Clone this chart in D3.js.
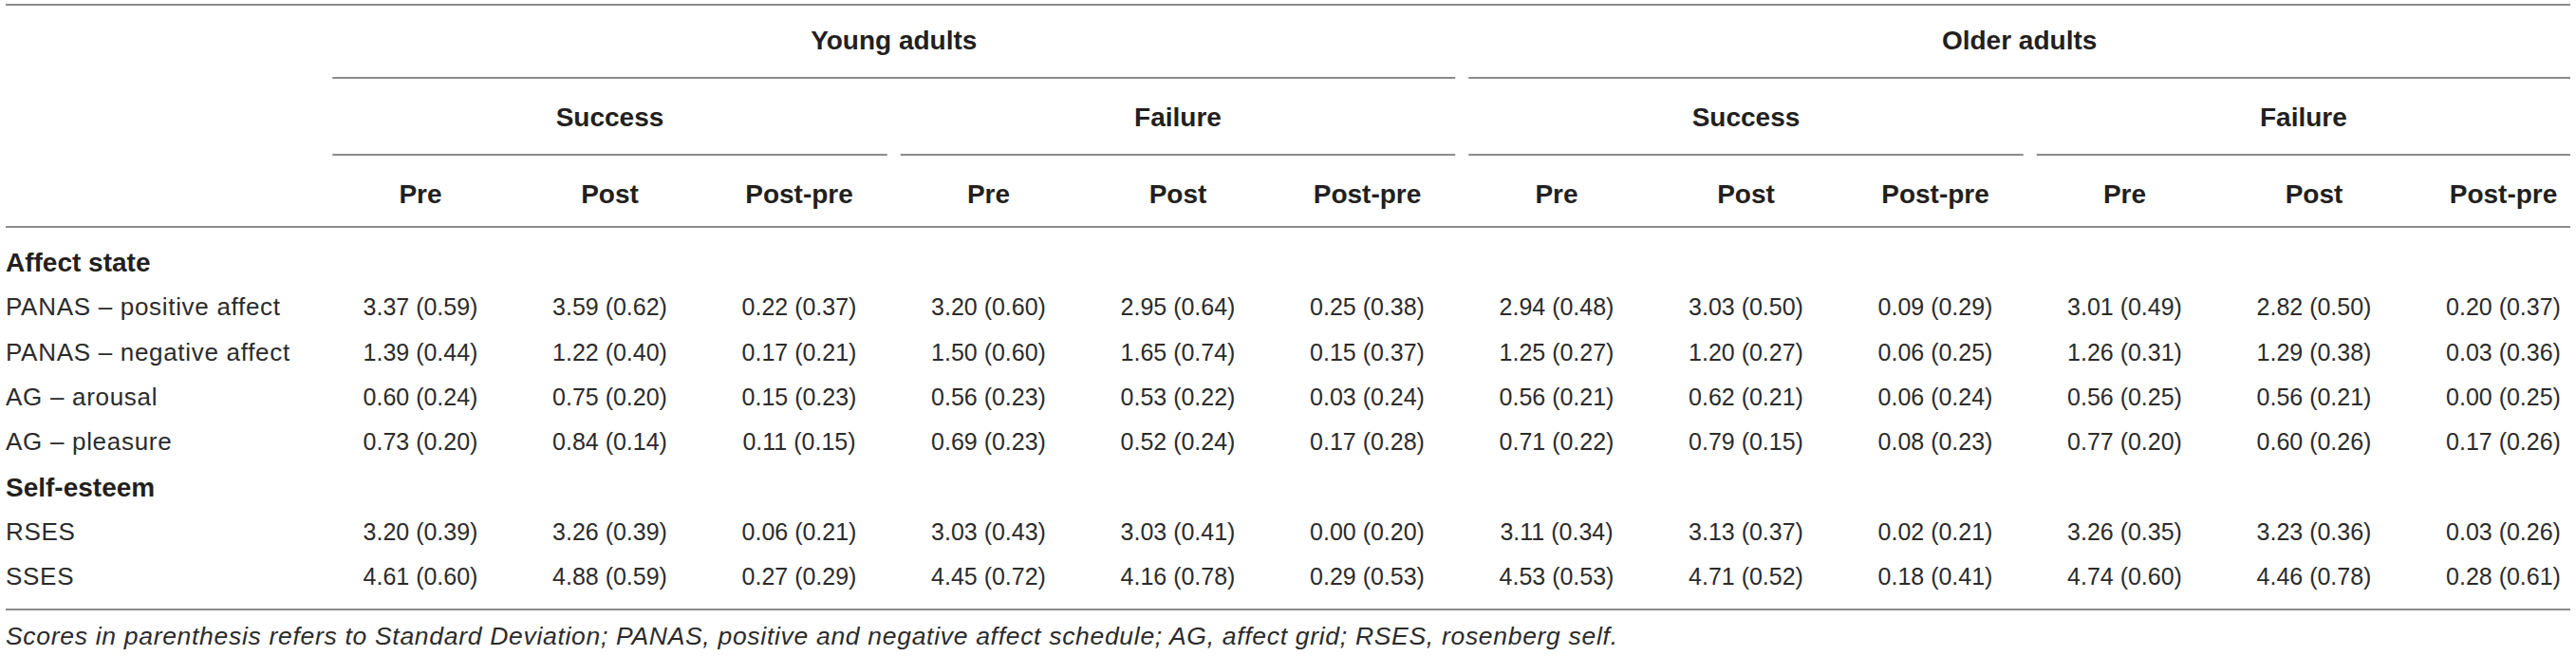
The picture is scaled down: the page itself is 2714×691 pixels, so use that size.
<!DOCTYPE html>
<html>
<head>
<meta charset="utf-8">
<script src="https://cdn.jsdelivr.net/npm/d3@7"></script>
<style>
  html, body { margin: 0; padding: 0; background: #fff; }
  svg { display: block; }
  text { font-family: "Liberation Sans", Arial, Helvetica, sans-serif; }
</style>
</head>
<body>
<div id="chart"></div>
<script>
// ---------- data ----------
const ageGroups = ["Young adults", "Older adults"];
const outcomes = ["Success", "Failure"];
const phases = ["Pre", "Post", "Post-pre"];

const sections = ["Affect state", "Self-esteem"];
const affectLabels = ["PANAS – positive affect", "PANAS – negative affect", "AG – arousal", "AG – pleasure"];
const selfEsteemLabels = ["RSES", "SSES"];

// columns: Young/Success Pre, Post, Post-pre, Young/Failure Pre, Post, Post-pre,
//          Older/Success Pre, Post, Post-pre, Older/Failure Pre, Post, Post-pre
const panasPositiveMean = [3.37, 3.59, 0.22, 3.20, 2.95, 0.25, 2.94, 3.03, 0.09, 3.01, 2.82, 0.20];
const panasPositiveSD   = [0.59, 0.62, 0.37, 0.60, 0.64, 0.38, 0.48, 0.50, 0.29, 0.49, 0.50, 0.37];
const panasNegativeMean = [1.39, 1.22, 0.17, 1.50, 1.65, 0.15, 1.25, 1.20, 0.06, 1.26, 1.29, 0.03];
const panasNegativeSD   = [0.44, 0.40, 0.21, 0.60, 0.74, 0.37, 0.27, 0.27, 0.25, 0.31, 0.38, 0.36];
const agArousalMean     = [0.60, 0.75, 0.15, 0.56, 0.53, 0.03, 0.56, 0.62, 0.06, 0.56, 0.56, 0.00];
const agArousalSD       = [0.24, 0.20, 0.23, 0.23, 0.22, 0.24, 0.21, 0.21, 0.24, 0.25, 0.21, 0.25];
const agPleasureMean    = [0.73, 0.84, 0.11, 0.69, 0.52, 0.17, 0.71, 0.79, 0.08, 0.77, 0.60, 0.17];
const agPleasureSD      = [0.20, 0.14, 0.15, 0.23, 0.24, 0.28, 0.22, 0.15, 0.23, 0.20, 0.26, 0.26];
const rsesMean          = [3.20, 3.26, 0.06, 3.03, 3.03, 0.00, 3.11, 3.13, 0.02, 3.26, 3.23, 0.03];
const rsesSD            = [0.39, 0.39, 0.21, 0.43, 0.41, 0.20, 0.34, 0.37, 0.21, 0.35, 0.36, 0.26];
const ssesMean          = [4.61, 4.88, 0.27, 4.45, 4.16, 0.29, 4.53, 4.71, 0.18, 4.74, 4.46, 0.28];
const ssesSD            = [0.60, 0.59, 0.29, 0.72, 0.78, 0.53, 0.53, 0.52, 0.41, 0.60, 0.78, 0.61];

const footnote = "Scores in parenthesis refers to Standard Deviation; PANAS, positive and negative affect schedule; AG, affect grid; RSES, rosenberg self.";

// ---------- build table model ----------
const dataRows = [
  { label: affectLabels[0], mean: panasPositiveMean, sd: panasPositiveSD },
  { label: affectLabels[1], mean: panasNegativeMean, sd: panasNegativeSD },
  { label: affectLabels[2], mean: agArousalMean, sd: agArousalSD },
  { label: affectLabels[3], mean: agPleasureMean, sd: agPleasureSD },
  { label: selfEsteemLabels[0], mean: rsesMean, sd: rsesSD },
  { label: selfEsteemLabels[1], mean: ssesMean, sd: ssesSD }
];
const bodyRows = [
  { key: "s0", section: sections[0] },
  { key: "r0", row: dataRows[0] },
  { key: "r1", row: dataRows[1] },
  { key: "r2", row: dataRows[2] },
  { key: "r3", row: dataRows[3] },
  { key: "s1", section: sections[1] },
  { key: "r4", row: dataRows[4] },
  { key: "r5", row: dataRows[5] }
];

const columns = [];
ageGroups.forEach(a => outcomes.forEach(o => phases.forEach(p => columns.push({ key: a + "|" + o + "|" + p, age: a, outcome: o, phase: p }))));

// ---------- layout ----------
const W = 2714, H = 691;
const svg = d3.select("#chart").append("svg").attr("width", W).attr("height", H);

const leftX = 6, rightX = 2708;
const colX = d3.scaleBand().domain(columns.map(c => c.key)).range([343.25, 343.25 + 12 * 199.5]);
const colCenter = k => colX(k) + colX.bandwidth() / 2;
const rowY = d3.scalePoint().domain(bodyRows.map(r => r.key)).range([276, 607.1]);
const fmt = d3.format(".2f");

const lineColor = "#8c8c8c";
const boldColor = "#231f20";
const textColor = "#2b2b2b";
const gap = 7;

function hline(x1, x2, y) {
  svg.append("line").attr("x1", x1).attr("x2", x2).attr("y1", y).attr("y2", y)
    .attr("stroke", lineColor).attr("stroke-width", 2);
}
function spanFor(startIdx, endIdx) {
  const x1 = colX(columns[startIdx].key) + gap;
  const x2 = endIdx === columns.length - 1 ? rightX : colX(columns[endIdx].key) + colX.bandwidth() - gap;
  return [x1, x2];
}

// rules
hline(leftX, rightX, 5);
hline(leftX, rightX, 239);
hline(leftX, rightX, 642);

// age group headers
ageGroups.forEach((a, ai) => {
  const [x1, x2] = spanFor(ai * 6, ai * 6 + 5);
  hline(x1, x2, 82);
  svg.append("text").attr("x", (x1 + x2) / 2).attr("y", 42 + 10)
    .attr("text-anchor", "middle").attr("font-weight", "bold").attr("font-size", 28)
    .attr("fill", boldColor).text(a);
  outcomes.forEach((o, oi) => {
    const s = ai * 6 + oi * 3;
    const [u1, u2] = spanFor(s, s + 2);
    hline(u1, u2, 163);
    svg.append("text").attr("x", (u1 + u2) / 2).attr("y", 123 + 10)
      .attr("text-anchor", "middle").attr("font-weight", "bold").attr("font-size", 28)
      .attr("fill", boldColor).text(o);
  });
});

// phase headers
svg.selectAll("text.phase").data(columns).enter().append("text")
  .attr("class", "phase")
  .attr("x", d => colCenter(d.key)).attr("y", 204 + 10)
  .attr("text-anchor", "middle").attr("font-weight", "bold").attr("font-size", 28)
  .attr("fill", boldColor).text(d => d.phase);

// body rows
bodyRows.forEach(r => {
  const y = rowY(r.key);
  if (r.section) {
    svg.append("text").attr("x", leftX).attr("y", y + 10)
      .attr("font-weight", "bold").attr("font-size", 28).attr("fill", boldColor)
      .text(r.section);
  } else {
    svg.append("text").attr("x", leftX).attr("y", y + 9)
      .attr("font-size", 26).attr("letter-spacing", 0.7).attr("fill", textColor)
      .text(r.row.label);
    svg.selectAll(null).data(columns).enter().append("text")
      .attr("x", (d) => colCenter(d.key)).attr("y", y + 9)
      .attr("text-anchor", "middle").attr("font-size", 25).attr("fill", textColor)
      .text((d, i) => fmt(r.row.mean[i]) + " (" + fmt(r.row.sd[i]) + ")");
  }
});

// footnote
svg.append("text").attr("x", leftX).attr("y", 670 + 9)
  .attr("font-size", 26.5).attr("font-style", "italic").attr("fill", textColor)
  .attr("textLength", 1698).attr("lengthAdjust", "spacing")
  .text(footnote);
</script>
</body>
</html>
